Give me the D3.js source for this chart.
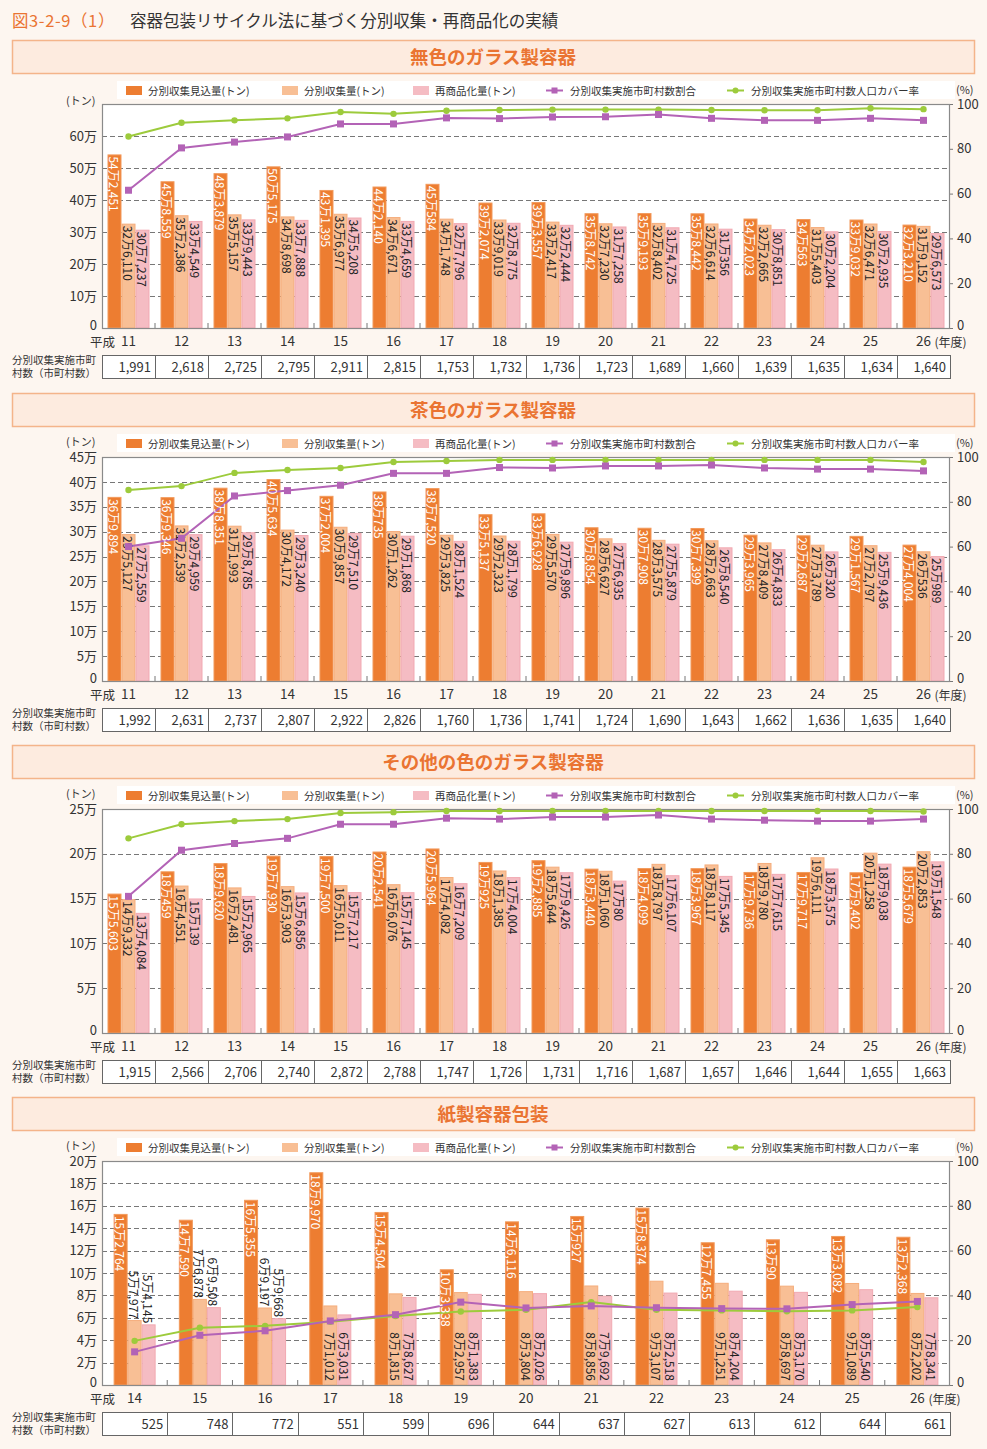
<!DOCTYPE html>
<html><head><meta charset="utf-8">
<script src="https://cdn.jsdelivr.net/npm/d3@7"></script>
<style>body{margin:0;background:#fdf6f0;}svg{display:block;font-family:"Noto Sans CJK JP","Noto Sans",sans-serif;}</style>
</head><body>
<script>
// ---------- DATA ----------
const yearsGlass = ["11","12","13","14","15","16","17","18","19","20","21","22","23","24","25","26"];
const yearsPaper = ["14","15","16","17","18","19","20","21","22","23","24","25","26"];

// 無色のガラス製容器
const clearPlanned   = [542451,458559,483879,505175,431395,442140,450584,392074,393557,358742,359193,358442,342023,340563,339032,323210];
const clearCollected = [326110,352386,355157,348698,356977,346671,341748,339019,332417,327230,328402,326614,322665,315403,326471,319152];
const clearRecycled  = [307237,334549,339443,337888,345208,334659,327796,328775,322444,317258,314725,310356,308851,302204,302935,296573];
const clearMuniPct   = [61.5,80.4,83.0,85.3,91.1,91.1,93.8,93.5,94.2,94.3,95.3,93.6,92.7,92.7,93.6,92.7];
const clearPopPct    = [85.5,91.6,92.7,93.6,96.4,95.6,97.0,97.3,97.5,97.5,97.5,97.3,97.2,97.2,98.1,97.7];
const clearMuniCount = ["1,991","2,618","2,725","2,795","2,911","2,815","1,753","1,732","1,736","1,723","1,689","1,660","1,639","1,635","1,634","1,640"];

// 茶色のガラス製容器
const brownPlanned   = [369894,369346,388351,405634,372004,380735,387520,335137,336928,308854,307908,307399,293965,292687,291567,274004];
const brownCollected = [295127,312539,311993,304172,309857,301262,293825,292323,295570,286627,283575,282663,278409,273789,272797,260536];
const brownRecycled  = [272559,294959,298785,293240,297510,291868,281524,281799,279896,276935,275879,268540,264833,260320,259436,250989];
const brownMuniPct   = [60.0,63.7,82.6,85.0,87.4,92.7,92.7,95.3,95.1,96.0,96.0,96.4,95.1,94.6,94.6,93.8];
const brownPopPct    = [85.3,87.0,92.9,94.2,95.1,97.8,98.2,98.7,98.7,98.7,98.7,98.7,98.7,98.7,98.7,97.8];
const brownMuniCount = ["1,992","2,631","2,737","2,807","2,922","2,826","1,760","1,736","1,741","1,724","1,690","1,643","1,662","1,636","1,635","1,640"];

// その他の色のガラス製容器
const otherPlanned   = [155603,180459,189620,197930,197500,202541,205964,190925,192885,183440,184099,183967,179736,179717,179402,185679];
const otherCollected = [149332,164551,162481,163903,165011,166076,174082,181385,185644,181060,188797,188117,189780,196111,201258,202853];
const otherRecycled  = [134084,150139,152965,156856,157217,157145,167209,174004,179426,170080,176107,175345,177615,183575,189038,191548];
const otherMuniPct   = [61.0,81.6,84.6,86.9,93.2,93.2,95.9,95.5,96.4,96.4,97.3,95.5,95.0,94.6,94.6,95.5];
const otherPopPct    = [86.9,93.2,94.6,95.5,98.2,98.6,99.1,99.1,99.1,99.1,99.1,99.1,99.1,99.1,99.1,98.9];
const otherMuniCount = ["1,915","2,566","2,706","2,740","2,872","2,788","1,747","1,726","1,731","1,716","1,687","1,657","1,646","1,644","1,655","1,663"];

// 紙製容器包装
const paperPlanned   = [152764,147590,165355,189970,154504,103338,146116,150927,158374,127455,130090,133082,132368];
const paperCollected = [57977,76878,69197,71012,81815,82957,83804,88856,93107,91251,88697,91089,82202];
const paperRecycled  = [54145,69508,59668,63031,78627,81383,82026,79692,82518,84204,83170,85540,78341];
const paperMuniPct   = [14.8,22.2,24.2,28.6,31.4,37.0,34.4,35.3,34.5,34.1,34.0,35.9,37.3];
const paperPopPct    = [19.7,25.6,26.4,28.2,30.8,32.8,33.6,37.0,33.6,33.3,32.9,33.3,34.8];
const paperMuniCount = ["525","748","772","551","599","696","644","637","627","613","612","644","661"];

const ticksClear = [0,100000,200000,300000,400000,500000,600000];
const ticksBrown = [0,50000,100000,150000,200000,250000,300000,350000,400000,450000];
const ticksOther = [0,50000,100000,150000,200000,250000];
const ticksPaper = [0,20000,40000,60000,80000,100000,120000,140000,160000,180000,200000];
const ticksPct   = [0,20,40,60,80,100];

const legendLabels = ["分別収集見込量(トン)","分別収集量(トン)","再商品化量(トン)","分別収集実施市町村数割合","分別収集実施市町村数人口カバー率"];

// ---------- STYLE ----------
const C = {orange:"#ed7d31", orangeEdge:"#f29a5c", peach:"#f8bf95", peachEdge:"#f5ad7c", pink:"#f5bcc3", pinkEdge:"#f1a9b2",
  purple:"#b363b6", green:"#9dcb3c", headFill:"#fdebdf", headStroke:"#f4b48a", headText:"#ea7432", bg:"#fdf6f0"};

const W = 987, H = 1449;
const svg = d3.select("body").append("svg").attr("width", W).attr("height", H);
svg.append("rect").attr("width", W).attr("height", H).attr("fill", C.bg);

// title
const t = svg.append("text").attr("x", 12).attr("y", 27).attr("font-size", 16.5);
t.append("tspan").attr("fill", C.headText).attr("letter-spacing", 0.6).text("図3-2-9（1）");
t.append("tspan").attr("x", 130).attr("fill", "#333").text("容器包装リサイクル法に基づく分別収集・再商品化の実績");

function manFmt(v){
  const man = Math.floor(v/10000), r = v % 10000;
  return man + "万" + (r >= 1000 ? d3.format(",")(r) : String(r));
}

const panels = [
  {title:"無色のガラス製容器", hy:40, years:yearsGlass, planned:clearPlanned, collected:clearCollected, recycled:clearRecycled,
   muni:clearMuniPct, pop:clearPopPct, count:clearMuniCount, yMax:700000, ticks:ticksClear, above:0, unitDy:1},
  {title:"茶色のガラス製容器", hy:393, years:yearsGlass, planned:brownPlanned, collected:brownCollected, recycled:brownRecycled,
   muni:brownMuniPct, pop:brownPopPct, count:brownMuniCount, yMax:450000, ticks:ticksBrown, above:0, unitDy:-11},
  {title:"その他の色のガラス製容器", hy:745, years:yearsGlass, planned:otherPlanned, collected:otherCollected, recycled:otherRecycled,
   muni:otherMuniPct, pop:otherPopPct, count:otherMuniCount, yMax:250000, ticks:ticksOther, above:0, unitDy:-11},
  {title:"紙製容器包装", hy:1097, years:yearsPaper, planned:paperPlanned, collected:paperCollected, recycled:paperRecycled,
   muni:paperMuniPct, pop:paperPopPct, count:paperMuniCount, yMax:200000, ticks:ticksPaper, above:3, bottomLabels:true, unitDy:-11}
];

const PL = 102, PR = 950;

panels.forEach(p => {
  const g = svg.append("g");
  const hy = p.hy;
  // header
  g.append("rect").attr("x", 12.5).attr("y", hy+0.5).attr("width", 962).attr("height", 33)
    .attr("fill", C.headFill).attr("stroke", C.headStroke).attr("stroke-width", 1.5);
  g.append("text").attr("x", 493).attr("y", hy+24).attr("text-anchor","middle")
    .attr("font-size", 18.5).attr("font-weight", "bold").attr("fill", C.headText).text(p.title);

  // legend
  const ly = hy + 41;
  g.append("rect").attr("x", 117).attr("y", ly).attr("width", 838).attr("height", 18).attr("fill", "#fff");
  const lx = [126, 282, 413, 546, 727];
  const sw = [C.orange, C.peach, C.pink];
  legendLabels.forEach((lab, i) => {
    if (i < 3) {
      g.append("rect").attr("x", lx[i]).attr("y", ly+5).attr("width", 16).attr("height", 9).attr("fill", sw[i]);
      g.append("text").attr("x", lx[i]+22).attr("y", ly+13.5).attr("font-size", 10.5).attr("fill", "#333").text(lab);
    } else {
      const col = i === 3 ? C.purple : C.green;
      g.append("line").attr("x1", lx[i]).attr("x2", lx[i]+17).attr("y1", ly+9.5).attr("y2", ly+9.5)
        .attr("stroke", col).attr("stroke-width", 2);
      if (i === 3) g.append("rect").attr("x", lx[i]+5.5).attr("y", ly+6.5).attr("width", 6).attr("height", 6).attr("fill", col);
      else g.append("circle").attr("cx", lx[i]+8.5).attr("cy", ly+9.5).attr("r", 3).attr("fill", col);
      g.append("text").attr("x", lx[i]+24).attr("y", ly+13.5).attr("font-size", 10.5).attr("fill", "#333").text(lab);
    }
  });

  const top = hy + 64, bot = hy + 288;
  g.append("text").attr("x", 66).attr("y", top + p.unitDy).attr("font-size", 11).attr("fill", "#333").text("(トン)");
  g.append("text").attr("x", 956).attr("y", top-10).attr("font-size", 11).attr("fill", "#333").text("(%)");

  const x = d3.scaleBand().domain(p.years).range([PL, PR]);
  const y = d3.scaleLinear().domain([0, p.yMax]).range([bot, top]);
  const yr = d3.scaleLinear().domain([0, 100]).range([bot, top]);

  // plot bg
  g.append("rect").attr("x", PL).attr("y", top).attr("width", PR-PL).attr("height", bot-top).attr("fill", "#fff");
  // grid
  g.append("g").selectAll("line").data(p.ticks.filter(v => v > 0 && v < p.yMax)).join("line")
    .attr("x1", PL).attr("x2", PR).attr("y1", d => Math.round(y(d))+0.5).attr("y2", d => Math.round(y(d))+0.5)
    .attr("stroke", "#777").attr("stroke-width", 1.2).attr("stroke-dasharray", "5,3");

  // left axis
  const ya = g.append("g").attr("transform", `translate(${PL},0)`)
    .call(d3.axisLeft(y).tickValues(p.ticks).tickSize(0).tickPadding(5)
      .tickFormat(d => d === 0 ? "0" : (d/10000) + "万"));
  ya.select(".domain").remove();
  ya.selectAll("text").attr("font-size", 13).attr("fill", "#333").attr("font-family", "Noto Sans CJK JP");
  ya.selectAll(".tick").filter(d => d === 0).select("text").attr("dy", "0.15em");
  // right axis
  const yra = g.append("g").attr("transform", `translate(${PR},0)`)
    .call(d3.axisRight(yr).tickValues(ticksPct).tickSize(3).tickPadding(4));
  yra.select(".domain").remove();
  yra.selectAll("line").attr("stroke", "#777");
  yra.selectAll("text").attr("font-size", 13).attr("fill", "#333").attr("font-family", "Noto Sans CJK JP");
  yra.selectAll(".tick").filter(d => d === 0).select("text").attr("dy", "0.15em");

  // bars
  const bw = 14;
  const series = [
    {vals:p.planned, fill:C.orange, edge:C.orangeEdge, off:-1, text:"#fff"},
    {vals:p.collected, fill:C.peach, edge:C.peachEdge, off:0, text:"#222"},
    {vals:p.recycled, fill:C.pink, edge:C.pinkEdge, off:1, text:"#222"}
  ];
  const cx = d => x(d) + x.bandwidth()/2;
  series.forEach(s => {
    g.append("g").selectAll("rect").data(p.years).join("rect")
      .attr("x", (d) => cx(d) + s.off*bw - bw/2 + 0.5)
      .attr("y", (d,i) => y(s.vals[i]) + 0.5)
      .attr("width", bw - 1).attr("height", (d,i) => bot - y(s.vals[i]) - 0.5)
      .attr("fill", s.fill).attr("stroke", s.edge).attr("stroke-width", 1);
  });

  // frame
  g.append("rect").attr("x", PL+0.5).attr("y", top+0.5).attr("width", PR-PL-1).attr("height", bot-top)
    .attr("fill", "none").attr("stroke", "#8a8a8a").attr("stroke-width", 1.2);
  // x ticks (between categories)
  g.append("g").selectAll("line").data(p.years.slice(1)).join("line")
    .attr("x1", d => x(d)).attr("x2", d => x(d)).attr("y1", bot).attr("y2", bot-5)
    .attr("stroke", "#777");

  // lines
  const lineGen = arr => d3.line().x((d,i) => cx(p.years[i])).y(d => yr(d))(arr);
  g.append("path").attr("d", lineGen(p.pop)).attr("fill", "none").attr("stroke", C.green).attr("stroke-width", 2);
  g.append("path").attr("d", lineGen(p.muni)).attr("fill", "none").attr("stroke", C.purple).attr("stroke-width", 2);

  // value labels
  const fs = 12;
  series.forEach((s, si) => {
    g.append("g").selectAll("text").data(p.years).join("text")
      .attr("font-size", fs).attr("fill", s.text)
      .attr("dominant-baseline", "central")
      .attr("text-anchor", (d,i) => (si > 0 && i < p.above) ? "end" : (si > 0 && p.bottomLabels ? "end" : "start"))
      .attr("transform", (d,i) => {
        let yy = y(s.vals[i]) + 2;
        if (si > 0 && i < p.above) yy = y(s.vals[i]) - 1;
        else if (si > 0 && p.bottomLabels) yy = bot - 4;
        return `translate(${cx(d) + s.off*bw},${yy}) rotate(90)`;
      })
      .text((d,i) => manFmt(s.vals[i]));
  });

  // markers on top
  g.append("g").selectAll("circle").data(p.pop).join("circle")
    .attr("cx", (d,i) => cx(p.years[i])).attr("cy", d => yr(d)).attr("r", 3.2).attr("fill", C.green);
  g.append("g").selectAll("rect").data(p.muni).join("rect")
    .attr("x", (d,i) => cx(p.years[i]) - 3.5).attr("y", d => yr(d) - 3.5)
    .attr("width", 7).attr("height", 7).attr("fill", C.purple);

  // x labels
  const xl = hy + 306;
  g.append("g").selectAll("text").data(p.years).join("text")
    .attr("x", d => cx(d)).attr("y", xl).attr("text-anchor", "middle")
    .attr("font-size", 13.5).attr("fill", "#333").text(d => d);
  g.append("text").attr("x", 90).attr("y", xl+1).attr("font-size", 12.5).attr("fill", "#333").text("平成");
  g.append("text").attr("x", cx(p.years[p.years.length-1]) + 11).attr("y", xl+1).attr("font-size", 12).attr("fill", "#333").text("(年度)");

  // table
  const ty = hy + 315, th = 23;
  g.append("text").attr("x", 12).attr("y", ty+8.5).attr("font-size", 10.5).attr("fill", "#333").text("分別収集実施市町");
  g.append("text").attr("x", 12).attr("y", ty+21.5).attr("font-size", 10.5).attr("fill", "#333").text("村数（市町村数）");
  g.append("rect").attr("x", PL+0.5).attr("y", ty+0.5).attr("width", PR-PL).attr("height", th)
    .attr("fill", "#fff").attr("stroke", "#666").attr("stroke-width", 1);
  g.append("g").selectAll("line").data(p.years.slice(1)).join("line")
    .attr("x1", d => Math.round(x(d))+0.5).attr("x2", d => Math.round(x(d))+0.5)
    .attr("y1", ty).attr("y2", ty+th).attr("stroke", "#666");
  g.append("g").selectAll("text").data(p.years).join("text")
    .attr("x", d => x(d) + x.bandwidth() - 4).attr("y", ty+16.5).attr("text-anchor", "end")
    .attr("font-size", 13).attr("fill", "#333").text((d,i) => p.count[i]);
});
</script>
</body></html>
